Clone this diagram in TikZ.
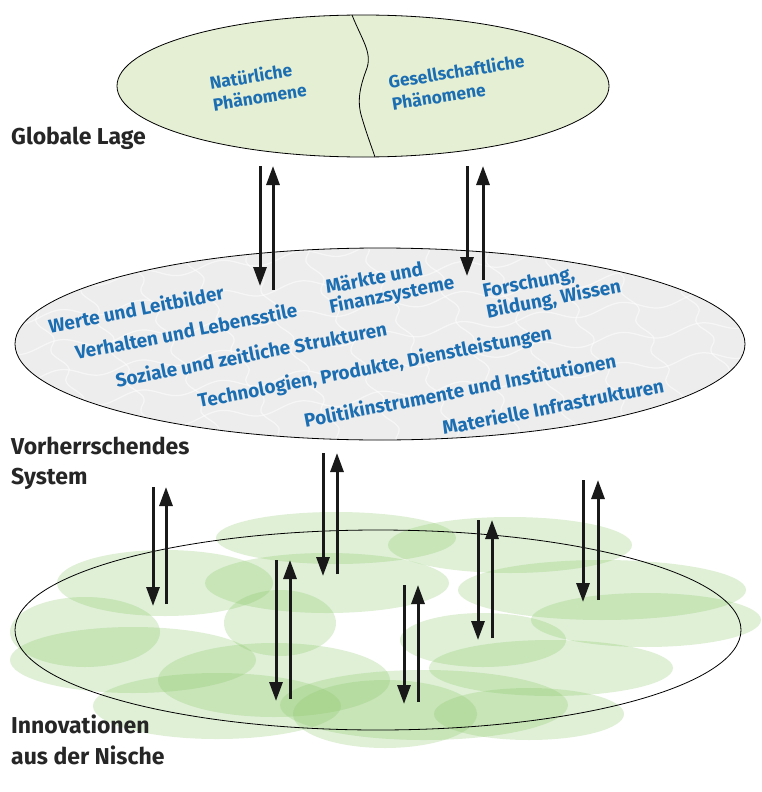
\documentclass[tikz,border=0pt]{standalone}
\usepackage{fontspec}
\setsansfont{Fira Sans}
\usetikzlibrary{arrows.meta,shapes.geometric}
\definecolor{lblue}{RGB}{28,110,178}
\definecolor{topfill}{RGB}{228,239,212}
\definecolor{midfill}{RGB}{237,237,237}
\definecolor{blobgreen}{RGB}{135,198,100}
\tikzset{
  levellabel/.style={anchor=base west,font=\sffamily\bfseries\fontsize{23}{30}\selectfont,text=black!85,align=left,inner sep=0pt},
  bluetext/.style={font=\sffamily\bfseries\fontsize{19}{19.5}\selectfont,text=lblue,align=left,inner sep=0pt,rotate=11},
  toptext/.style={font=\sffamily\bfseries\fontsize{17.5}{22}\selectfont,text=lblue,align=left,inner sep=0pt,rotate=9},
  blob/.style={fill=blobgreen,fill opacity=0.26,draw=none},
  flow/.style={line width=3pt,-{Triangle[width=13pt,length=19pt]},black!90},
  layer/.style={draw=black,line width=0.8pt},
  puzzle/.style={draw=white,line width=1.2pt,opacity=0.55}
}
\begin{document}
\begin{tikzpicture}[x=1pt,y=-1pt]
\path[use as bounding box,fill=white] (0,0) rectangle (762,792);

% ---------- bottom: niche blobs ----------
\foreach \cx/\cy/\rx/\ry in {
 336/538/120/26, 510/545/122/28, 327/583/122/30, 165/583/108/33,
 280/623/56/33, 133/660/123/33, 274/680/116/37, 217/706/124/33,
 424/705/144/35, 483/640/83/27, 602/590/144/30, 646/620/115/27,
 551/668/122/28, 529/714/95/26, 85/632/75/35, 385/714/92/34}
 \fill[blob] (\cx,\cy) ellipse [x radius=\rx, y radius=\ry];
\node[layer,ellipse,minimum width=726pt,minimum height=200pt,inner sep=0pt] (niche) at (378,630) {};

% ---------- middle: regime ----------
\node[ellipse,fill=midfill,minimum width=730pt,minimum height=192pt,inner sep=0pt] (regime) at (380,344) {};
\begin{scope}
  \clip (380,344) ellipse [x radius=365, y radius=96];
  \foreach \yy in {262,292,...,442}
    \draw[puzzle] plot[domain=0:760,samples=120,smooth] (\x,{\yy-0.12*\x+5*sin(\x*4.5)});
  \foreach \xx in {-60,0,...,760}
    \draw[puzzle] plot[domain=240:450,samples=40,smooth] ({\xx+0.5*(\x-240)+5*sin(\x*12)},\x);
\end{scope}
\draw[layer] (regime.center) ellipse [x radius=365, y radius=96];

% ---------- top: landscape ----------
\node[layer,ellipse,fill=topfill,minimum width=492pt,minimum height=142pt,inner sep=0pt] (land) at (363,86) {};
\coordinate (divtop) at (352,15);
\coordinate (divbot) at (375,157);
\draw[line width=0.8pt] (divtop) .. controls (362,40) and (372,52) .. (367,68)
  .. controls (361,84) and (356,100) .. (362,118) .. controls (367,135) and (372,148) .. (divbot);

\node[toptext] (nat) at (258,86) {Natürliche\\Phänomene};
\node[toptext] (ges) at (458,82) {Gesellschaftliche\\Phänomene};

% ---------- regime labels ----------
\node[bluetext] (werte) at (136,309) {Werte und Leitbilder};
\node[bluetext] (verh) at (186,331) {Verhalten und Lebensstile};
\node[bluetext] (markt) at (390,286) {Märkte und\\Finanzsysteme};
\node[bluetext] (forsch) at (552,290) {Forschung,\\Bildung, Wissen};
\node[bluetext] (soz) at (251,354) {Soziale und zeitliche Strukturen};
\node[bluetext] (tech) at (375,368) {Technologien, Produkte, Dienstleistungen};
\node[bluetext] (pol) at (460,390) {Politikinstrumente und Institutionen};
\node[bluetext] (mat) at (553,406) {Materielle Infrastrukturen};

% ---------- level labels ----------
\node[levellabel] (glob) at (11,144) {Globale Lage};
\node[levellabel] (vorh) at (11,484) {Vorherrschendes\\System};
\node[levellabel] (innov) at (11,764) {Innovationen\\[1pt]aus der Nische};

% ---------- arrows landscape <-> regime ----------
\foreach \n/\xd/\xu/\ya/\yb in {a/260/273/166/286, b/467/483/166/276}{
  \coordinate (\n d1) at (\xd,\ya); \coordinate (\n d2) at (\xd,\yb);
  \coordinate (\n u1) at (\xu,\yb+4); \coordinate (\n u2) at (\xu,\ya);
  \draw[flow] (\n d1) -- (\n d2);
  \draw[flow] (\n u1) -- (\n u2);
}
% ---------- arrows regime <-> niches ----------
\foreach \n/\xd/\xu/\ya/\yb in {c/153/166/487/606, d/323/337/453/576, e/276/290/560/701,
  f/404/418/585/704, g/478/492/520/640, h/583/598/480/602}{
  \coordinate (\n d1) at (\xd,\ya); \coordinate (\n d2) at (\xd,\yb);
  \coordinate (\n u1) at (\xu,\yb-2); \coordinate (\n u2) at (\xu,\ya);
  \draw[flow] (\n d1) -- (\n d2);
  \draw[flow] (\n u1) -- (\n u2);
}
\end{tikzpicture}
\end{document}
